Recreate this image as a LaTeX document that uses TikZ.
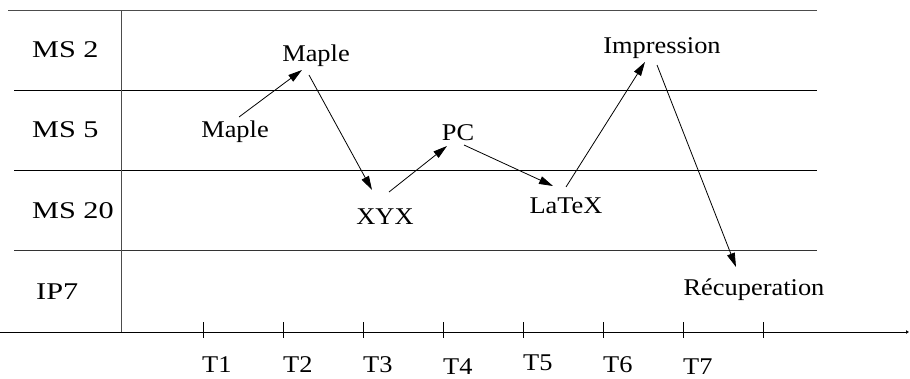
\documentclass[tikz,border=0pt]{standalone}
\usepackage{fontspec}
\setmainfont{Liberation Serif}
\newfontfamily\labfont[FakeStretch=1.1]{Liberation Serif}
\newfontfamily\msfont[FakeStretch=1.26]{Liberation Serif}
\usetikzlibrary{arrows.meta,calc}
\begin{document}
\begin{tikzpicture}[x=1pt,y=-1pt,
  grid/.style={line width=1pt,black},
  lab/.style={anchor=base,inner sep=0pt,font=\labfont\fontsize{24}{28}\selectfont},
  ms/.style={anchor=base west,inner sep=0pt,font=\msfont\fontsize{24}{28}\selectfont},
  tl/.style={anchor=base west,inner sep=0pt,font=\labfont\fontsize{24}{28}\selectfont},
  flow/.style={line width=0.8pt,-{Triangle[length=14pt,width=8pt]}},
  tick/.style={line width=0.8pt}]
\useasboundingbox (0,0) rectangle (910,379);
% grid
\draw[grid,black!70] (8,11) -- (817,11);
\draw[grid] (14,91) -- (817,91);
\draw[grid] (14,171) -- (817,171);
\draw[grid,black!80] (14,251) -- (817,251);
\draw[grid,black!70] (121,11) -- (121,332);
% axis
\coordinate (a0) at (0,332);
\coordinate (a1) at (909,332);
\draw[line width=1pt,-{Latex[length=3pt,width=4pt]}] (a0) -- (a1);
\foreach \i in {0,...,7}{
  \draw[tick] (203+80*\i,322) -- (203+80*\i,338);
}
% row labels
\node[ms] (ms2) at (32,58) {MS 2};
\node[ms] (ms5) at (32,138) {MS 5};
\node[ms] (ms20) at (32,219) {MS 20};
\node[ms] (ip7) at (36,299) {IP7};
% time labels
\node[tl] (t1) at (202,372) {T1};
\node[tl] (t2) at (283,372) {T2};
\node[tl] (t3) at (363,372) {T3};
\node[tl] (t4) at (443,374) {T4};
\node[tl] (t5) at (523,370) {T5};
\node[tl] (t6) at (603,372) {T6};
\node[tl] (t7) at (683,374) {T7};
% task nodes
\node[lab] (maple1) at (235,138) {Maple};
\node[lab] (maple2) at (316,62) {Maple};
\node[lab] (xyx) at (385,225) {XYX};
\node[lab] (pc) at (458,141) {PC};
\node[lab] (latex) at (566,214) {LaTeX};
\node[lab] (impr) at (662,54) {Impression};
\node[lab] (recup) at (754,295) {Récuperation};
% flows
\draw[flow] ($(maple1.base)+(4,-21)$) -- ($(maple2.base)+(-14,8)$);
\draw[flow] ($(maple2.base)+(-7,13)$) -- ($(xyx.base)+(-13,-35)$);
\draw[flow] ($(xyx.base)+(4,-33)$) -- ($(pc.base)+(-11,5)$);
\draw[flow] ($(pc.base)+(6,4)$) -- ($(latex.base)+(-13,-28)$);
\draw[flow] ($(latex.base)+(0,-27)$) -- ($(impr.base)+(-17,8)$);
\draw[flow] ($(impr.base)+(-5,11)$) -- ($(recup.base)+(-18,-28)$);
\end{tikzpicture}
\end{document}
